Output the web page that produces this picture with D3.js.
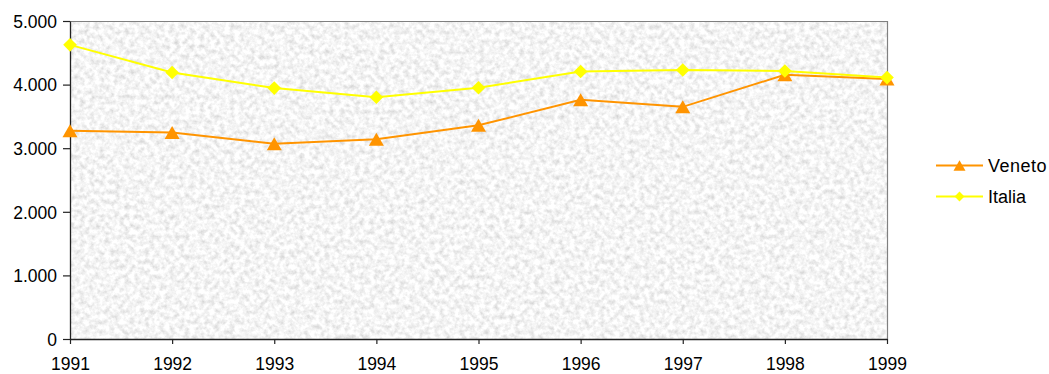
<!DOCTYPE html>
<html>
<head>
<meta charset="utf-8">
<script src="https://cdn.jsdelivr.net/npm/d3@7"></script>
<style>
  html, body { margin: 0; padding: 0; background: #fff; }
  svg { display: block; font-family: "Liberation Sans", Arial, sans-serif; }
</style>
</head>
<body>
<svg id="chart" width="1049" height="374"></svg>
<script>
// Anni e valori delle due serie
const years = ["1991", "1992", "1993", "1994", "1995", "1996", "1997", "1998", "1999"];
const veneto = [3275, 3245, 3070, 3140, 3360, 3760, 3650, 4155, 4090];
const italia = [4625, 4190, 3945, 3800, 3950, 4205, 4230, 4215, 4110];
const yTicks = [0, 1000, 2000, 3000, 4000, 5000];
const seriesNames = ["Veneto", "Italia"];

const W = 1049, H = 374;
const plot = { left: 70, right: 887, top: 21, bottom: 339 };

const svg = d3.select("#chart");

const x = d3.scalePoint().domain(years).range([plot.left, plot.right]).padding(0);
const y = d3.scaleLinear().domain([0, 5000]).range([plot.bottom, plot.top]);

const it = d3.formatLocale({ decimal: ",", thousands: ".", grouping: [3], currency: ["", "€"] });
const fmt = it.format(",");

// Texture for the plot background
const defs = svg.append("defs");
const filt = defs.append("filter").attr("id", "granite")
  .attr("x", 0).attr("y", 0).attr("width", 1).attr("height", 1);
filt.append("feTurbulence")
  .attr("type", "fractalNoise").attr("baseFrequency", 0.2)
  .attr("numOctaves", 3).attr("seed", 7).attr("result", "noise");
filt.append("feColorMatrix").attr("in", "noise").attr("type", "matrix")
  .attr("values", [
    "0.6 0 0 0 0.61",
    "0.6 0 0 0 0.61",
    "0.6 0 0 0 0.61",
    "0 0 0 0 1"].join(" "));

svg.append("rect")
  .attr("x", plot.left).attr("y", plot.top)
  .attr("width", plot.right - plot.left).attr("height", plot.bottom - plot.top)
  .attr("fill", "#e6e6e6")
  .attr("filter", "url(#granite)");

// Frame: gray top and right edges
svg.append("path")
  .attr("d", `M${plot.left},${plot.top + 0.5}H${plot.right + 0.5}V${plot.bottom}`)
  .attr("fill", "none").attr("stroke", "#808080").attr("stroke-width", 1.2);

// Axes
const yAxis = d3.axisLeft(y).tickValues(yTicks).tickFormat(fmt)
  .tickSize(7).tickSizeOuter(0).tickPadding(6);
const gy = svg.append("g").attr("transform", `translate(${plot.left},0)`).call(yAxis);

const xAxis = d3.axisBottom(x).tickSize(5).tickSizeOuter(0).tickPadding(14);
const gx = svg.append("g").attr("transform", `translate(0,${plot.bottom})`).call(xAxis);

[gy, gx].forEach(g => {
  g.selectAll(".domain").attr("stroke", "#222").attr("stroke-width", 1.3);
  g.selectAll(".tick line").attr("stroke", "#222").attr("stroke-width", 1.2);
  g.selectAll(".tick text").attr("fill", "#000")
    .style("font-size", "17.5px").style("font-family", "'Liberation Sans', Arial, sans-serif");
});
gy.selectAll(".tick text").attr("dy", "0.36em");

// Marker shapes
const triangle = (cx, cy, w, h) => `M${cx},${cy - h / 2}L${cx + w / 2},${cy + h / 2}L${cx - w / 2},${cy + h / 2}Z`;
const diamond = (cx, cy, r) => `M${cx},${cy - r}L${cx + r},${cy}L${cx},${cy + r}L${cx - r},${cy}Z`;

const line = d3.line().x((d, i) => x(years[i])).y(d => y(d));

const series = [
  { name: seriesNames[0], values: veneto, color: "#FF9400", marker: (cx, cy, s) => triangle(cx, cy, 15 * s, 13 * s) },
  { name: seriesNames[1], values: italia, color: "#FFFF00", marker: (cx, cy, s) => diamond(cx, cy, 6.8 * s) }
];

series.forEach(s => {
  svg.append("path").datum(s.values)
    .attr("d", line).attr("fill", "none")
    .attr("stroke", s.color).attr("stroke-width", 2);
});
series.forEach(s => {
  svg.append("g").selectAll("path").data(s.values).join("path")
    .attr("d", (d, i) => s.marker(x(years[i]), y(d), 1))
    .attr("fill", s.color).attr("stroke", "none");
});

// Legend
const legend = svg.append("g");
const legY = [165.5, 196.5];
series.forEach((s, i) => {
  const g = legend.append("g");
  g.append("line").attr("x1", 936).attr("x2", 983)
    .attr("y1", legY[i]).attr("y2", legY[i])
    .attr("stroke", s.color).attr("stroke-width", 2);
  g.append("path").attr("d", s.marker(959.5, legY[i], i === 0 ? 0.8 : 0.72)).attr("fill", s.color);
  g.append("text").attr("x", 988).attr("y", legY[i]).attr("dy", "0.36em")
    .style("font-size", "18px").attr("fill", "#000")
    .style("letter-spacing", i === 0 ? "0.5px" : "0px")
    .text(s.name);
});
</script>
</body>
</html>
